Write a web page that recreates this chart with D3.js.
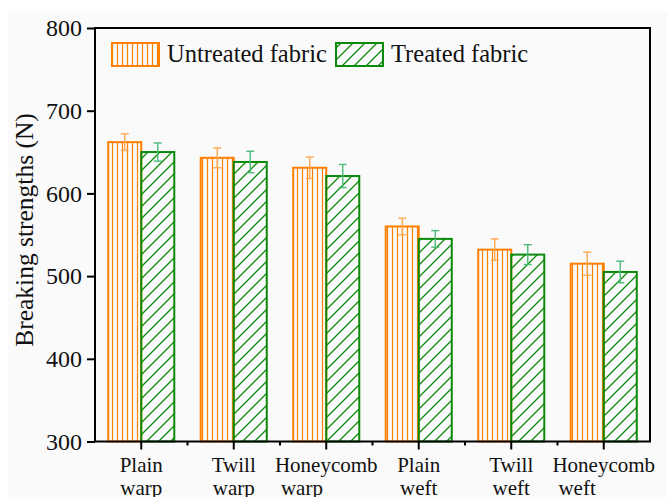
<!DOCTYPE html>
<html><head><meta charset="utf-8">
<script src="https://cdn.jsdelivr.net/npm/d3@7"></script>
<style>body{margin:0;background:#fff}svg{display:block}</style>
</head><body>
<svg id="c" width="667" height="497"></svg>
<script>
const categories = ["Plain warp","Twill warp","Honeycomb warp","Plain weft","Twill weft","Honeycomb weft"];
const labelLine1 = ["Plain","Twill","Honeycomb","Plain","Twill","Honeycomb"];
const labelLine2 = ["warp","warp","warp","weft","weft","weft"];
const seriesNames = ["Untreated fabric","Treated fabric"];
const untreated = [662,643,631,560,532,515];
const untreatedErr = [10,12,13,10,13,14];
const treated = [650,638,621,545,526,505];
const treatedErr = [11,13,14,10,12,13];
const yTicks = [300,400,500,600,700,800];

const svg = d3.select("#c");
const W=667,H=497;
const L=95,R=650,T=28,B=441.5;
const font = "'Liberation Serif','Times New Roman',serif";

svg.append("rect").attr("x",8).attr("y",11).attr("width",W).attr("height",H).attr("fill","#fafafa");

const defs = svg.append("defs");
const pv = defs.append("pattern").attr("id","pv").attr("patternUnits","userSpaceOnUse")
  .attr("width",5).attr("height",10);
pv.append("line").attr("x1",2.5).attr("x2",2.5).attr("y1",0).attr("y2",10)
  .attr("stroke","#ff8000").attr("stroke-width",1.2);
const pd = defs.append("pattern").attr("id","pd").attr("patternUnits","userSpaceOnUse")
  .attr("width",12).attr("height",12);
pd.append("path").attr("d","M0,12 L12,0 M-3,3 L3,-3 M9,15 L15,9")
  .attr("stroke","#0a8a0a").attr("stroke-width",1.3);

const colors = {fill:["url(#pv)","url(#pd)"], stroke:["#ff8000","#0a8a0a"], err:["#ffa850","#4cbb78"]};

const x = d3.scaleBand().domain(categories).range([L,R]).padding(0);
const bw = x.bandwidth();
const barW = bw*0.357;
const x1 = d3.scaleBand().domain(seriesNames).range([bw/2-barW, bw/2+barW]).padding(0);
const y = d3.scaleLinear().domain([300,800]).range([B,T]);

const data = [untreated, treated];
const errs = [untreatedErr, treatedErr];

seriesNames.forEach((s,si)=>{
  const g = svg.append("g");
  g.selectAll("rect").data(categories).join("rect")
    .attr("x",c=>x(c)+x1(s)).attr("width",x1.bandwidth())
    .attr("y",(c,i)=>y(data[si][i])).attr("height",(c,i)=>y(300)-y(data[si][i]))
    .attr("fill",colors.fill[si]).attr("stroke",colors.stroke[si]).attr("stroke-width",2);
  const eg = svg.append("g").attr("stroke",colors.err[si]).attr("stroke-width",1.4).attr("fill","none");
  categories.forEach((c,i)=>{
    const cx = x(c)+x1(s)+x1.bandwidth()/2;
    const v=data[si][i], e=errs[si][i];
    eg.append("line").attr("x1",cx).attr("x2",cx).attr("y1",y(v+e)).attr("y2",y(v-e));
    eg.append("line").attr("x1",cx-4).attr("x2",cx+4).attr("y1",y(v+e)).attr("y2",y(v+e));
    eg.append("line").attr("x1",cx-4).attr("x2",cx+4).attr("y1",y(v-e)).attr("y2",y(v-e));
  });
});

// frame
svg.append("rect").attr("x",L).attr("y",T).attr("width",R-L).attr("height",B-T)
  .attr("fill","none").attr("stroke","#000").attr("stroke-width",2);

// y axis
const ya = svg.append("g").attr("transform",`translate(${L},0)`)
  .call(d3.axisLeft(y).tickValues(yTicks).tickSize(8).tickPadding(5).tickFormat(d3.format("d")));
ya.select(".domain").remove();
ya.selectAll("line").attr("stroke","#000").attr("stroke-width",2);
ya.selectAll("text").attr("font-family",font).attr("font-size",24).attr("fill","#111");

// x axis ticks
const xa = svg.append("g").attr("transform",`translate(0,${B})`)
  .call(d3.axisBottom(x).tickSize(8).tickFormat(""));
xa.select(".domain").remove();
xa.selectAll("line").attr("stroke","#000").attr("stroke-width",2);
const minor = categories.map(c=>x(c)).slice(1);
xa.selectAll(".minor").data(minor).join("line").attr("class","minor")
  .attr("x1",d=>d).attr("x2",d=>d).attr("y1",0).attr("y2",4).attr("stroke","#000").attr("stroke-width",2);

// x labels
const xl = svg.append("g").attr("font-family",font).attr("font-size",21).attr("fill","#111");
categories.forEach((c,i)=>{
  const cx = x(c)+bw/2;
  const t1 = xl.append("text").attr("x",cx).attr("y",472).attr("text-anchor","middle").text(labelLine1[i]);
  const w1 = t1.node().getComputedTextLength();
  const t2 = xl.append("text").attr("y",495).text(labelLine2[i]);
  const w2 = t2.node().getComputedTextLength();
  if (w1-w2>30) t2.attr("x",cx-w1/2+6).attr("text-anchor","start");
  else t2.attr("x",cx).attr("text-anchor","middle");
});

// y title
svg.append("text").attr("transform",`translate(33,230) rotate(-90)`)
  .attr("text-anchor","middle").attr("font-family",font).attr("font-size",25.5).attr("fill","#111")
  .text("Breaking strengths (N)");

// legend
const lg = svg.append("g");
const lx = [112,336];
seriesNames.forEach((s,si)=>{
  lg.append("rect").attr("x",lx[si]).attr("y",43).attr("width",47).attr("height",23)
    .attr("fill",colors.fill[si]).attr("stroke",colors.stroke[si]).attr("stroke-width",2);
  lg.append("text").attr("x",lx[si]+55).attr("y",62).attr("font-family",font).attr("font-size",24.5)
    .attr("fill","#111").text(s);
});
</script>
</body></html>
